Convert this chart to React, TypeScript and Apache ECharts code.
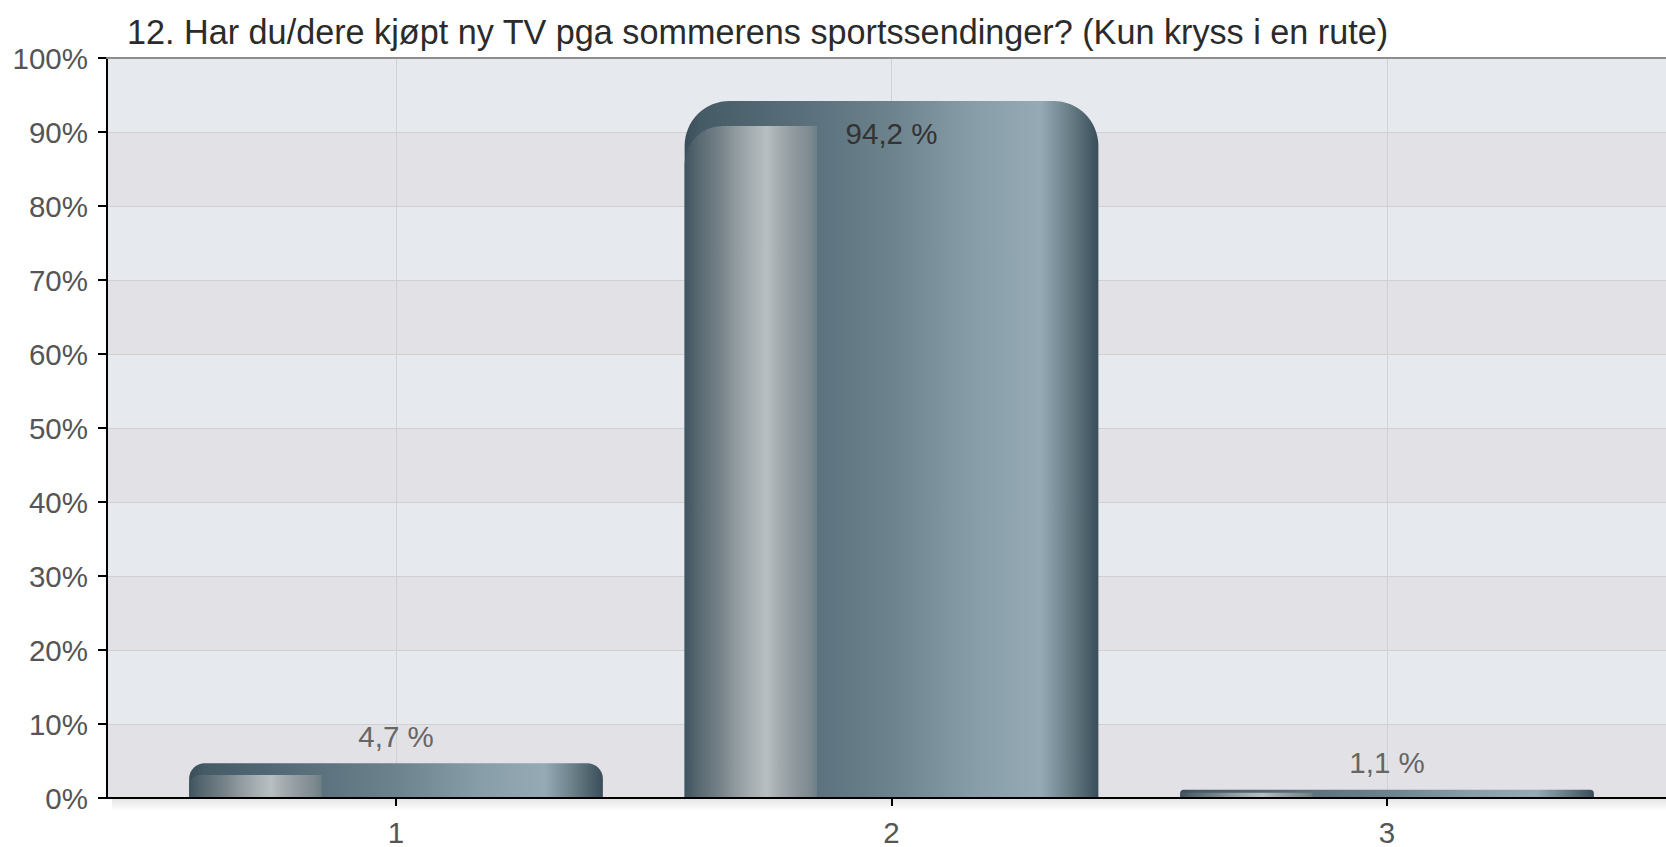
import React, { useEffect, useRef } from "react";
import * as echarts from "echarts";

const titleText = "12. Har du/dere kjøpt ny TV pga sommerens sportssendinger? (Kun kryss i en rute)";
const categories = ["1", "2", "3"];
const percentValues = [4.7, 94.2, 1.1];
const yMin = 0;
const yMax = 100;
const yInterval = 10;

const FONT = '"Liberation Sans", Arial, Helvetica, sans-serif';
const LABEL_SIZE = 29.5;

export default function App() {
  const ref = useRef<HTMLDivElement>(null);

  useEffect(() => {
    if (!ref.current) return;
    const chart = echarts.init(ref.current, undefined, { renderer: "svg" });

    const baseGrad = () =>
      new echarts.graphic.LinearGradient(0, 0, 1, 0, [
        { offset: 0, color: "#3a4e59" },
        { offset: 0.04, color: "#455b66" },
        { offset: 0.31, color: "#5b727e" },
        { offset: 0.5, color: "#6c828c" },
        { offset: 0.7, color: "#879da7" },
        { offset: 0.86, color: "#95aab5" },
        { offset: 0.93, color: "#6a7e88" },
        { offset: 1, color: "#3a4e59" },
      ]);
    const frontGrad = () =>
      new echarts.graphic.LinearGradient(0, 0, 1, 0, [
        { offset: 0, color: "#3e5460" },
        { offset: 0.11, color: "#5a6a72" },
        { offset: 0.25, color: "#727f86" },
        { offset: 0.38, color: "#8f999e" },
        { offset: 0.53, color: "#aab2b6" },
        { offset: 0.62, color: "#b8bfc3" },
        { offset: 0.71, color: "#a4acb0" },
        { offset: 0.83, color: "#8f999e" },
        { offset: 0.94, color: "#7e8b90" },
        { offset: 1, color: "#6e7f87" },
      ]);

    const option: any = {
      animation: false,
      backgroundColor: "#ffffff",
      textStyle: { fontFamily: FONT },
      title: {
        text: titleText,
        left: 122,
        top: 10,
        textStyle: { fontFamily: FONT, fontSize: 34.2, fontWeight: "normal", color: "#2b2b2b" },
      },
      grid: [
        { left: 107, right: 0, top: 58, bottom: 49, containLabel: false },
        { left: 396, right: 279, top: 58, bottom: 49, containLabel: false },
      ],
      xAxis: [
        {
          gridIndex: 0,
          type: "value",
          min: 0,
          max: 1,
          z: 5,
          axisLine: { show: true, lineStyle: { color: "#000", width: 2 } },
          axisTick: { show: false },
          axisLabel: { show: false },
          splitLine: { show: false },
        },
        {
          gridIndex: 0,
          type: "value",
          position: "top",
          min: 0,
          max: 1,
          z: 5,
          axisLine: { show: true, lineStyle: { color: "#8e8e8e", width: 2 } },
          axisTick: { show: false },
          axisLabel: { show: false },
          splitLine: { show: false },
        },
        {
          gridIndex: 1,
          type: "category",
          data: categories,
          boundaryGap: false,
          z: 1,
          axisLine: { show: false },
          axisTick: { show: true, length: 8, lineStyle: { color: "#000", width: 2 } },
          axisLabel: { color: "#555", fontSize: LABEL_SIZE, fontFamily: FONT, margin: 19 },
          splitLine: { show: true, lineStyle: { color: "#d2d2d2", width: 1 } },
        },
      ],
      yAxis: [
        {
          gridIndex: 0,
          type: "value",
          min: yMin,
          max: yMax,
          interval: yInterval,
          z: 0,
          axisLine: { show: true, lineStyle: { color: "#000", width: 2 } },
          axisTick: { show: true, length: 9, lineStyle: { color: "#000", width: 2 } },
          axisLabel: {
            formatter: "{value}%",
            color: "#555",
            fontSize: LABEL_SIZE,
            fontFamily: FONT,
            margin: 19,
          },
          splitLine: { show: true, lineStyle: { color: "#d0d0d0", width: 1 } },
          splitArea: { show: true, areaStyle: { color: ["#e2e1e6", "#e6e9ee"] } },
        },
        {
          gridIndex: 1,
          type: "value",
          min: yMin,
          max: yMax,
          interval: yInterval,
          show: false,
          splitLine: { show: false },
        },
      ],
      graphic: [
        {
          type: "rect",
          shape: { x: 112, y: 799, width: 1554, height: 12 },
          style: {
            fill: new echarts.graphic.LinearGradient(0, 0, 0, 1, [
              { offset: 0, color: "rgba(0,0,0,0.10)" },
              { offset: 1, color: "rgba(0,0,0,0)" },
            ]),
          },
          silent: true,
          z: -1,
        },
      ],
      series: [
        {
          type: "custom",
          xAxisIndex: 2,
          yAxisIndex: 1,
          clip: false,
          z: 3,
          data: categories.map((c, i) => [i, percentValues[i]]),
          renderItem: (params: any, api: any) => {
            const idx = api.value(0);
            const val = api.value(1);
            const top = api.coord([idx, val]);
            const base = api.coord([idx, 0]);
            const band = api.size([1, 0])[0];
            const w = band * 0.835;
            const x = top[0] - w / 2;
            const y = top[1];
            const h = base[1] - top[1];
            const r = Math.min(45, h * 0.45);
            const capOff = Math.min(25, h * 0.34);
            const fw = w * 0.32;
            const r2 = Math.min(38, (h - capOff) * 0.45);
            const inside = h > 100;
            const label = String(val).replace(".", ",") + " %";
            return {
              type: "group",
              children: [
                {
                  type: "rect",
                  shape: { x, y, width: w, height: h, r: [r, r, 0, 0] },
                  style: { fill: baseGrad() },
                },
                {
                  type: "rect",
                  shape: { x, y: y + capOff, width: fw, height: h - capOff, r: [r2, 0, 0, 0] },
                  style: { fill: frontGrad() },
                },
                {
                  type: "text",
                  x: top[0],
                  y: inside ? y + 33 : y - 27,
                  style: {
                    text: label,
                    fill: inside ? "#333" : "#666",
                    fontSize: LABEL_SIZE,
                    fontFamily: FONT,
                    align: "center",
                    verticalAlign: "middle",
                  },
                },
              ],
            };
          },
        },
      ],
    };

    chart.setOption(option);
    return () => chart.dispose();
  }, []);

  return (
    <div
      ref={ref}
      style={{ position: "absolute", left: 0, top: 0, width: 1666, height: 847 }}
    />
  );
}
